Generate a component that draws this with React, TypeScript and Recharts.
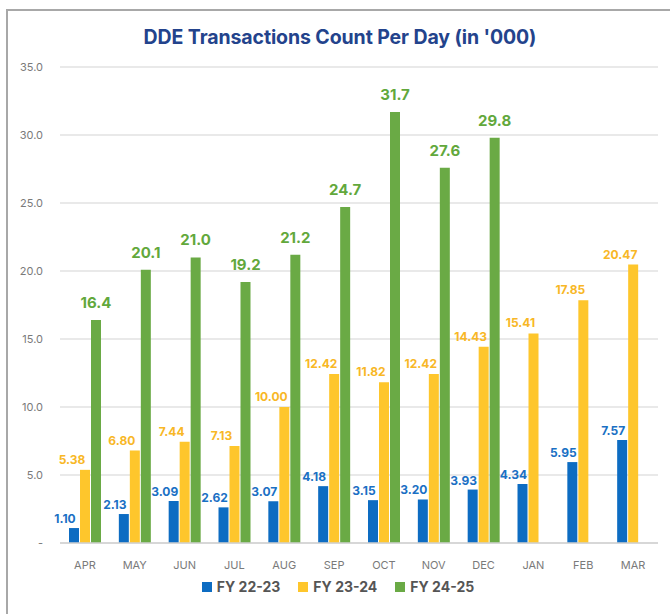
import React from "react";
import { BarChart, Bar, XAxis, YAxis, CartesianGrid, Legend, LabelList } from "recharts";

const months = ["APR", "MAY", "JUN", "JUL", "AUG", "SEP", "OCT", "NOV", "DEC", "JAN", "FEB", "MAR"];
const fy2223 = [1.1, 2.13, 3.09, 2.62, 3.07, 4.18, 3.15, 3.2, 3.93, 4.34, 5.95, 7.57];
const fy2324 = [5.38, 6.8, 7.44, 7.13, 10.0, 12.42, 11.82, 12.42, 14.43, 15.41, 17.85, 20.47];
const fy2425: (number | null)[] = [16.4, 20.1, 21.0, 19.2, 21.2, 24.7, 31.7, 27.6, 29.8, null, null, null];
const yTicks = [0, 5, 10, 15, 20, 25, 30, 35];
const seriesNames = ["FY 22-23", "FY 23-24", "FY 24-25"];

const data = months.map((m, i) => ({ month: m, a: fy2223[i], b: fy2324[i], c: fy2425[i] }));

const BLUE = "#0d6cc2";
const YELLOW = "#fec62c";
const GREEN = "#6aaa45";
const FONT = "Inter, 'Noto Sans', sans-serif";

const makeLabel = (color: string, size: number, dx: number, gap: number, digits: number) => (props: any) => {
  const { x, y, width, value } = props;
  if (value == null) return null;
  return (
    <text x={Number(x) + Number(width) / 2 + dx} y={Number(y) - gap} fill={color} fontSize={size} fontWeight={700} textAnchor="middle" fontFamily={FONT}>
      {Number(value).toFixed(digits)}
    </text>
  );
};

const colors = [BLUE, YELLOW, GREEN];

const LegendContent = () => (
  <div style={{ display: "flex", justifyContent: "center", paddingLeft: 36, fontFamily: FONT }}>
    {seriesNames.map((n, i) => (
      <div key={n} style={{ display: "flex", alignItems: "center", marginRight: 18 }}>
        <span style={{ width: 10, height: 10, background: colors[i], display: "inline-block", marginRight: 5 }} />
        <span style={{ fontSize: 14, fontWeight: 700, color: "#555" }}>{n}</span>
      </div>
    ))}
  </div>
);

export default function App() {
  return (
    <div style={{ position: "absolute", left: 0, top: 0, width: 670, height: 614, overflow: "hidden", background: "#fff" }}>
      <div style={{ position: "absolute", left: 6, top: 9, width: 700, height: 700, borderTop: "2px solid #a8a8a8", borderLeft: "2px solid #a8a8a8", boxSizing: "border-box" }} />
      <div style={{ position: "absolute", left: 0, top: 25, width: 680, textAlign: "center", fontFamily: FONT, fontWeight: 700, fontSize: 19.5, color: "#23438c", letterSpacing: -0.1 }}>
        DDE Transactions Count Per Day (in '000)
      </div>
      <div style={{ position: "absolute", left: 0, top: 0 }}>
        <BarChart width={670} height={614} data={data} margin={{ top: 67, right: 12, left: 0, bottom: 10 }} barSize={10} barGap={1}>
          <CartesianGrid horizontal vertical={false} stroke="#e2e2e2" strokeWidth={1.5} />
          <XAxis dataKey="month" axisLine={{ stroke: "#d0d0d0", strokeWidth: 1.5 }} tickLine={false} tickMargin={12} height={35} tick={{ fontSize: 11, fill: "#7a7a7a", fontFamily: FONT }} />
          <YAxis domain={[0, 35]} ticks={yTicks} width={60} axisLine={false} tickLine={false} tickSize={0} tickMargin={17}
            tick={{ fontSize: 11, fill: "#7a7a7a", fontFamily: FONT }}
            tickFormatter={(v: number) => (v === 0 ? "-" : v.toFixed(1))} />
          <Legend verticalAlign="bottom" height={26} content={<LegendContent />} />
          <Bar dataKey="a" name={seriesNames[0]} fill={BLUE} isAnimationActive={false}>
            <LabelList dataKey="a" content={makeLabel("#1a70c4", 12, -9, 5, 2)} />
          </Bar>
          <Bar dataKey="b" name={seriesNames[1]} fill={YELLOW} isAnimationActive={false}>
            <LabelList dataKey="b" content={makeLabel("#f8b726", 12, -13, 6, 2)} />
          </Bar>
          <Bar dataKey="c" name={seriesNames[2]} fill={GREEN} isAnimationActive={false}>
            <LabelList dataKey="c" content={makeLabel("#62a83c", 15, 0, 12, 1)} />
          </Bar>
        </BarChart>
      </div>
    </div>
  );
}
